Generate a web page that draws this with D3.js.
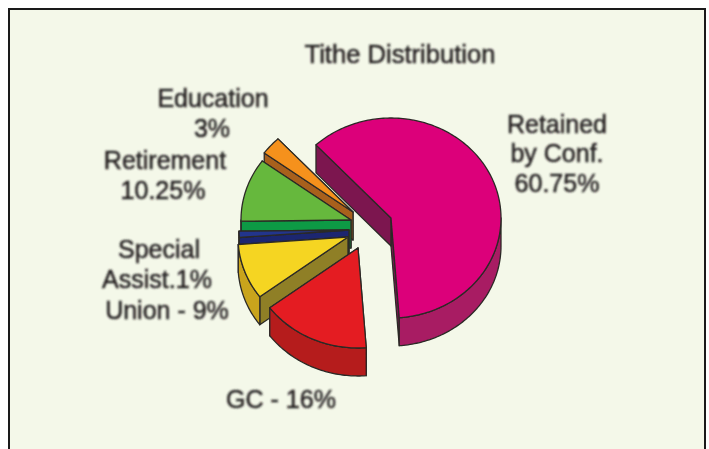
<!DOCTYPE html>
<html><head><meta charset="utf-8">
<style>html,body{margin:0;padding:0;background:#fff}svg{display:block}
text{font-family:"Liberation Sans",Arial,sans-serif;fill:#262224;stroke:#262224;stroke-width:.5;text-anchor:middle}</style>
<script src="https://cdn.jsdelivr.net/npm/d3@7"></script></head><body>
<script>
// Data
const title = "Tithe Distribution";
const categories = ["Retained by Conf.","GC","Union","Special Assist.","Retirement","Education"];
const shares = [60.75,16,9,1,10.25,3];
const labelLines = [["Retained","by Conf.","60.75%"],["GC - 16%"],["Union - 9%"],["Special","Assist.1%"],["Retirement","10.25%"],["Education","3%"]];
// Styles
const topColors = ["#dc007a","#e41e20","#f5d522","#24348c","#66b83c","#f5911a"];
const sideColors = ["#7b1650","#b51a1c","#8f7f26","#1a2570","#0c9a45","#a8601e"];
const rimColors = ["#a81a64","#b51a1c","#c9a41f","#1a2570","#0c9a45","#a8601e"];
// Layout
const W=709,H=449, rx=110, ry=100, depth=28, startDeg=-43;
const base=[391,218];
const explode=[[0,0],[-33,30],[-43,19],[-42,12],[-40,2],[-38,-6]];
const drawOrder=[5,4,3,2,0,1];
const labelPos=[[[557,133],[557,162],[557,192]],[[281,408]],[[167,319]],[[159,258],[157,288]],[[165,169],[163,199]],[[213,107],[212,137]]];

const svg=d3.select("body").append("svg").attr("width",W).attr("height",H);
const defs=svg.append("defs");
defs.append("filter").attr("id","soft").attr("x","-5%").attr("y","-5%").attr("width","110%").attr("height","110%")
  .append("feGaussianBlur").attr("stdDeviation",0.6);
defs.append("filter").attr("id","softText").attr("x","-5%").attr("y","-5%").attr("width","110%").attr("height","110%")
  .append("feGaussianBlur").attr("stdDeviation",0.8);
const root=svg.append("g");
root.append("rect").attr("x",9).attr("y",9).attr("width",696).attr("height",H+10)
  .attr("fill","#f4f8e9").attr("stroke","#1a1a1a").attr("stroke-width",2);

const pie=d3.pie().sort(null).value(d=>d).startAngle(startDeg*Math.PI/180).endAngle((startDeg+360)*Math.PI/180);
const arcs=pie(shares);
const line=d3.line();
const sx=d3.scaleLinear().domain([-1,1]).range([-rx,rx]);
const sy=d3.scaleLinear().domain([-1,1]).range([-ry,ry]);
function P(i,t,dz=0){return [base[0]+explode[i][0]+sx(Math.sin(t)), base[1]+explode[i][1]-sy(Math.cos(t))+dz];}
function C(i,dz=0){return [base[0]+explode[i][0], base[1]+explode[i][1]+dz];}
function samples(a,b){const n=Math.max(2,Math.ceil((b-a)/0.02));return d3.range(n+1).map(k=>a+(b-a)*k/n);}
const g=root.append("g").attr("filter","url(#soft)").attr("stroke","#2c2a26").attr("stroke-width",1.3).attr("stroke-linejoin","round");
drawOrder.forEach(i=>{
  const a=arcs[i],s=a.startAngle,e=a.endAngle;
  [e,s].forEach(t=>g.append("path").attr("fill",sideColors[i])
    .attr("d",line([C(i),P(i,t),P(i,t,depth),C(i,depth)])+"Z"));
  const lo=Math.PI/2, hi=3*Math.PI/2, a0=Math.max(s,lo), b0=Math.min(e,hi);
  if(b0>a0){const ts=samples(a0,b0);
    g.append("path").attr("fill",rimColors[i])
     .attr("d",line(ts.map(t=>P(i,t)).concat(ts.slice().reverse().map(t=>P(i,t,depth))))+"Z");}
  g.append("path").attr("fill",topColors[i])
    .attr("d",line([C(i)].concat(samples(s,e).map(t=>P(i,t))))+"Z");
});
const tg=root.append("g").attr("filter","url(#softText)");
tg.append("text").attr("x",400).attr("y",63).attr("font-size",25).attr("textLength",191).attr("lengthAdjust","spacingAndGlyphs").text(title);
labelLines.forEach((ls,i)=>ls.forEach((l,j)=>tg.append("text").attr("x",labelPos[i][j][0]).attr("y",labelPos[i][j][1]).attr("font-size",25).text(l)));
</script></body></html>
